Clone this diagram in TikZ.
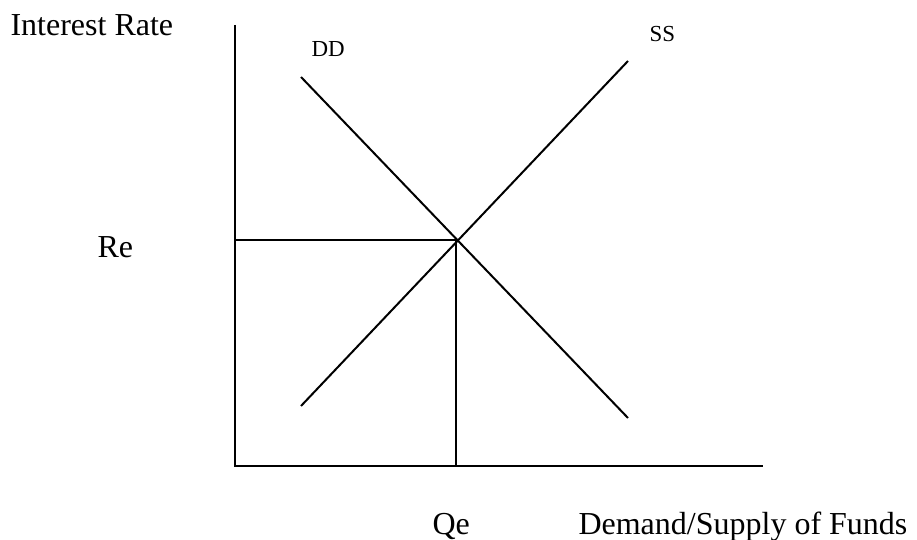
\documentclass[tikz,border=0pt]{standalone}
\usepackage{fontspec}
\setmainfont{Liberation Serif}
\usetikzlibrary{positioning}

\begin{document}
\begin{tikzpicture}[
  x=0.375pt, y=-0.375pt,
  axis/.style={line width=0.8pt},
  curve/.style={line width=0.75pt},
  guide/.style={line width=0.75pt},
  every node/.style={font=\fontsize{12}{14}\selectfont, inner sep=0pt},
  tag/.style={font=\fontsize{8.6}{10}\selectfont, inner sep=0pt},
]
  \useasboundingbox (0,0) rectangle (917,540);

  % axes
  \coordinate (origin) at (235,466);
  \coordinate (ytop) at (235,25);
  \coordinate (xend) at (763,466);
  \draw[axis] (ytop) -- (origin) -- (xend);

  % demand and supply
  \coordinate (ddtop) at (301,77);
  \coordinate (ddbot) at (628,418);
  \coordinate (ssbot) at (301,406);
  \coordinate (sstop) at (628,61);
  \draw[curve] (ddtop) -- (ddbot);
  \draw[curve] (ssbot) -- (sstop);

  % equilibrium
  \coordinate (eq) at (456,240);
  \coordinate (reaxis) at (235,240);
  \coordinate (qeaxis) at (456,466);
  \draw[guide] (reaxis) -- (eq) -- (qeaxis);

  % labels
  \node[anchor=base west] (ylabel) at (10,36) {Interest Rate};
  \node[tag, anchor=base west] (ddlabel) at (311,57) {DD};
  \node[tag, anchor=base west] (sslabel) at (649,42) {SS};
  \node[anchor=base west] (relabel) at (97,258) {Re};
  \node[anchor=base west] (qelabel) at (432,535) {Qe};
  \node[anchor=base west] (xlabel) at (578,535) {Demand/Supply of Funds};
\end{tikzpicture}
\end{document}
